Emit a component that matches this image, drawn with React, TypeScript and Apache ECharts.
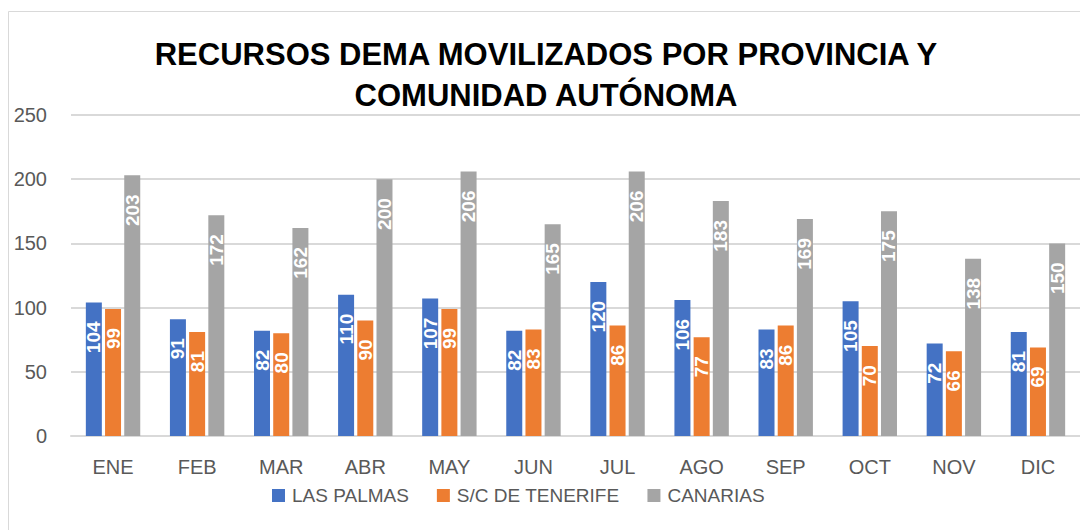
import React, { useEffect, useRef } from "react";
import * as echarts from "echarts";

const months = ["ENE", "FEB", "MAR", "ABR", "MAY", "JUN", "JUL", "AGO", "SEP", "OCT", "NOV", "DIC"];
const lasPalmas = [104, 91, 82, 110, 107, 82, 120, 106, 83, 105, 72, 81];
const tenerife = [99, 81, 80, 90, 99, 83, 86, 77, 86, 70, 66, 69];
const canarias = [203, 172, 162, 200, 206, 165, 206, 183, 169, 175, 138, 150];
const seriesNames = ["LAS PALMAS", "S/C DE TENERIFE", "CANARIAS"];
const colors = ["#4472C4", "#ED7D31", "#A5A5A5"];
const titleText = "RECURSOS DEMA MOVILIZADOS POR PROVINCIA Y\nCOMUNIDAD AUTÓNOMA";

const FONT = "'Liberation Sans', Arial, sans-serif";

export default function App() {
  const ref = useRef<HTMLDivElement>(null);
  useEffect(() => {
    if (!ref.current) return;
    const chart = echarts.init(ref.current, null, { renderer: "svg" });
    const label = {
      show: true,
      position: "insideTop",
      rotate: 90,
      align: "right",
      verticalAlign: "middle",
      distance: 19,
      color: "#FFFFFF",
      fontWeight: "bold",
      fontSize: 19,
      fontFamily: FONT,
    };
    const datas = [lasPalmas, tenerife, canarias];
    chart.setOption({
      animation: false,
      backgroundColor: "#FFFFFF",
      color: colors,
      textStyle: { fontFamily: FONT },
      title: {
        text: titleText,
        left: 546,
        top: 34,
        padding: 0,
        textAlign: "center",
        textStyle: {
          fontFamily: FONT,
          fontWeight: "bold",
          fontSize: 31,
          lineHeight: 41,
          color: "#000000",
        },
      },
      graphic: [
        {
          type: "rect",
          shape: { x: 8.5, y: 11.5, width: 1200, height: 700 },
          style: { fill: "none", stroke: "#D9D9D9", lineWidth: 1 },
          silent: true,
        },
      ],
      legend: {
        left: 272,
        top: 486,
        padding: 0,
        itemWidth: 13,
        itemHeight: 13,
        itemGap: 28,
        icon: "rect",
        textStyle: { fontFamily: FONT, fontSize: 19, color: "#595959", padding: [0, 0, 0, 2] },
        data: seriesNames,
      },
      grid: { left: 71, top: 115, bottom: 94, width: 1022 },
      xAxis: {
        type: "category",
        data: months,
        axisLine: { show: true, lineStyle: { color: "#D9D9D9", width: 2 } },
        axisTick: { show: false },
        axisLabel: { color: "#595959", fontSize: 20, fontFamily: FONT, margin: 21 },
      },
      yAxis: {
        type: "value",
        min: 0,
        max: 250,
        interval: 50,
        axisLine: { show: false },
        axisTick: { show: false },
        splitLine: { lineStyle: { color: "#D9D9D9", width: 2 } },
        axisLabel: { color: "#595959", fontSize: 20, fontFamily: FONT, margin: 24 },
      },
      series: seriesNames.map((name, i) => ({
        name,
        type: "bar",
        data: datas[i],
        barWidth: 16,
        barGap: "20%",
        itemStyle: { color: colors[i] },
        label,
      })),
    });
    return () => chart.dispose();
  }, []);
  return (
    <div
      ref={ref}
      style={{ position: "fixed", left: 0, top: 0, width: 1080, height: 530 }}
    />
  );
}
